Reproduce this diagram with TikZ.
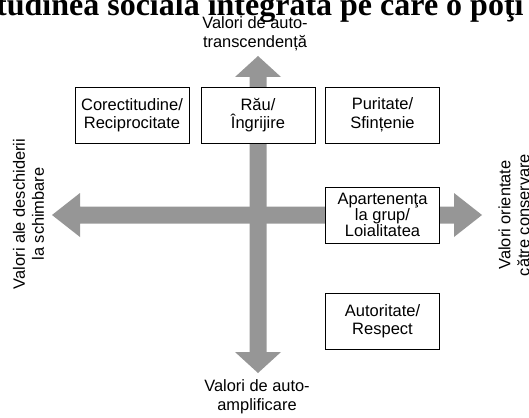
\documentclass[tikz,border=0pt]{standalone}
\usepackage{fontspec}
\setmainfont{Liberation Sans}
\newfontfamily\titlefont{Liberation Serif}
\usepackage{tikz}
\definecolor{axisgray}{RGB}{150,150,150}
\tikzset{valbox/.style={draw, fill=white, line width=0.9pt, minimum width=114pt, minimum height=56pt, inner sep=0pt, align=center, font=\fontsize{16.5}{18.5}\selectfont},
  axislabel/.style={align=center, inner sep=0pt, font=\fontsize{16.4}{18.8}\selectfont}}

\begin{document}
\begin{tikzpicture}[x=1pt,y=-1pt]
          \useasboundingbox (0,0) rectangle (529,417);
          \node[anchor=base west, inner sep=0pt, font=\titlefont\bfseries\fontsize{32}{36}\selectfont] (Title) at (-4,16) {tudinea socială integrată pe care o poţi};

          % the two axes
          \fill[axisgray] (52,215) -- (80,193) -- (80,206.5) -- (454,206.5) -- (454,193) -- (482,215) -- (454,237) -- (454,223.5) -- (80,223.5) -- (80,237) -- cycle;
          \fill[axisgray] (258,56) -- (281,77) -- (266.5,77) -- (266.5,352) -- (281,352) -- (258,373) -- (235,352) -- (249.5,352) -- (249.5,77) -- (235,77) -- cycle;

          \node[axislabel] (Transcend) at (255,34) {Valori de auto-\\transcendență};
          \node[axislabel] (Amplif) at (257,397) {Valori de auto-\\amplificare};
          \node[axislabel, rotate=90] (Deschidere) at (28.5,214) {Valori ale deschiderii\\la schimbare};
          \node[axislabel, rotate=90] (Conservare) at (514,215) {Valori orientate\\către conservare};

          \node[valbox] (Corectitudine) at (132,115) {Corectitudine/\\Reciprocitate};
          \node[valbox] (Grija) at (258,115) {Rău/\\Îngrijire};
          \node[valbox] (Puritate) at (382.5,115) {Puritate/\\Sfințenie};
          \node[valbox, font=\fontsize{16.5}{16}\selectfont] (Apartenenta) at (382.5,215) {Apartenenţa\\la grup/\\Loialitatea};
          \node[valbox] (Autoritate) at (382.5,321) {Autoritate/\\Respect};
        \end{tikzpicture}
\end{document}
